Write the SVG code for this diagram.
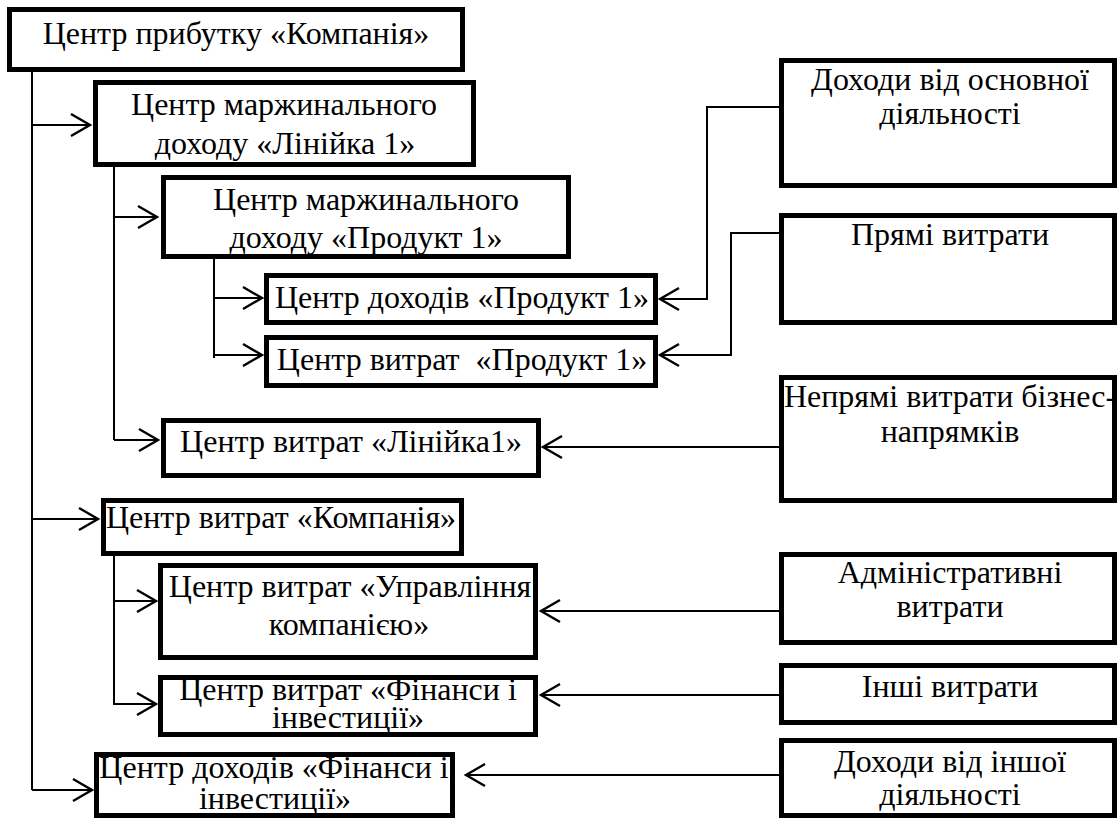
<svg xmlns="http://www.w3.org/2000/svg" width="1119" height="820" viewBox="0 0 1119 820">
<defs>
<style>
.box{fill:#fff;stroke:#000;stroke-width:5}
.t{font-family:'Liberation Serif','Times New Roman',serif;font-size:32px;fill:#000;text-anchor:middle}
.c{fill:none;stroke:#000;stroke-width:2}
.a{fill:none;stroke:#000;stroke-width:2;marker-end:url(#arr)}
</style>
<marker id="arr" markerUnits="userSpaceOnUse" markerWidth="26" markerHeight="26" viewBox="-22 -13 26 26" refX="0" refY="0" orient="auto">
<path d="M -19 -11 L 0 0 L -19 11" fill="none" stroke="#000" stroke-width="2.4"/>
</marker>
</defs>
<rect width="1119" height="820" fill="#fff"/>

<g id="n-company">
<rect class="box" x="9.5" y="9.5" width="453" height="60"/>
<text class="t" x="236" y="44">Центр прибутку «Компанія»</text>
</g>
<g id="n-line1">
<rect class="box" x="95.5" y="82.5" width="378" height="82"/>
<text class="t" x="284" y="115">Центр маржинального</text>
<text class="t" x="285" y="154">доходу «Лінійка 1»</text>
</g>
<g id="n-product1">
<rect class="box" x="163.5" y="177.5" width="405" height="79"/>
<text class="t" x="366" y="210">Центр маржинального</text>
<text class="t" x="366" y="248">доходу «Продукт 1»</text>
</g>
<g id="n-rev-product1">
<rect class="box" x="266.5" y="275.5" width="389" height="47"/>
<text class="t" x="462" y="308">Центр доходів «Продукт 1»</text>
</g>
<g id="n-cost-product1">
<rect class="box" x="266.5" y="337.5" width="389" height="48"/>
<text class="t" x="462" y="370" xml:space="preserve">Центр витрат  «Продукт 1»</text>
</g>
<g id="n-cost-line1">
<rect class="box" x="163.5" y="420.5" width="375" height="55"/>
<text class="t" x="351" y="452">Центр витрат «Лінійка1»</text>
</g>
<g id="n-cost-company">
<rect class="box" x="103.5" y="500.5" width="358" height="53"/>
<text class="t" x="281" y="528">Центр витрат «Компанія»</text>
</g>
<g id="n-cost-mgmt">
<rect class="box" x="160.5" y="565.5" width="375" height="92"/>
<text class="t" x="350" y="597">Центр витрат «Управління</text>
<text class="t" x="349" y="635">компанією»</text>
</g>
<g id="n-cost-fin">
<rect class="box" x="160.5" y="677.5" width="375" height="57"/>
<text class="t" x="348" y="700">Центр витрат «Фінанси і</text>
<text class="t" x="348" y="728">інвестиції»</text>
</g>
<g id="n-rev-fin">
<rect class="box" x="96.5" y="754.5" width="356" height="61"/>
<text class="t" x="274" y="778">Центр доходів «Фінанси і</text>
<text class="t" x="275" y="809">інвестиції»</text>
</g>

<g id="r-main-income">
<rect class="box" x="781.5" y="60.5" width="333" height="125"/>
<text class="t" x="950" y="90">Доходи від основної</text>
<text class="t" x="950" y="124">діяльності</text>
</g>
<g id="r-direct">
<rect class="box" x="781.5" y="215.5" width="333" height="107"/>
<text class="t" x="950" y="245">Прямі витрати</text>
</g>
<g id="r-indirect">
<rect class="box" x="781.5" y="377.5" width="333" height="123"/>
<text class="t" x="950" y="407">Непрямі витрати бізнес-</text>
<text class="t" x="950" y="442">напрямків</text>
</g>
<g id="r-admin">
<rect class="box" x="781.5" y="554.5" width="333" height="88"/>
<text class="t" x="950" y="583">Адміністративні</text>
<text class="t" x="950" y="617">витрати</text>
</g>
<g id="r-other">
<rect class="box" x="781.5" y="665.5" width="333" height="57"/>
<text class="t" x="950" y="697">Інші витрати</text>
</g>
<g id="r-other-income">
<rect class="box" x="781.5" y="740.5" width="333" height="75"/>
<text class="t" x="950" y="772">Доходи від іншої</text>
<text class="t" x="950" y="805">діяльності</text>
</g>

<g id="connectors">
<path class="c" d="M32 72 V790"/>
<path class="a" d="M32 125 H90"/>
<path class="a" d="M32 519 H98"/>
<path class="a" d="M32 790 H92"/>
<path class="c" d="M114 167 V440"/>
<path class="a" d="M114 217 H157"/>
<path class="a" d="M114 440 H158"/>
<path class="c" d="M214 256 V358"/>
<path class="a" d="M214 298 H262"/>
<path class="a" d="M214 355 H262"/>
<path class="c" d="M114 556 V705"/>
<path class="a" d="M114 601 H156"/>
<path class="a" d="M114 704 H156"/>
<path class="a" d="M779 107 H707 V299 H660"/>
<path class="a" d="M779 233 H731 V355 H660"/>
<path class="a" d="M779 447 H543"/>
<path class="a" d="M779 611 H541"/>
<path class="a" d="M779 695 H541"/>
<path class="a" d="M779 775 H466"/>
</g>
</svg>
